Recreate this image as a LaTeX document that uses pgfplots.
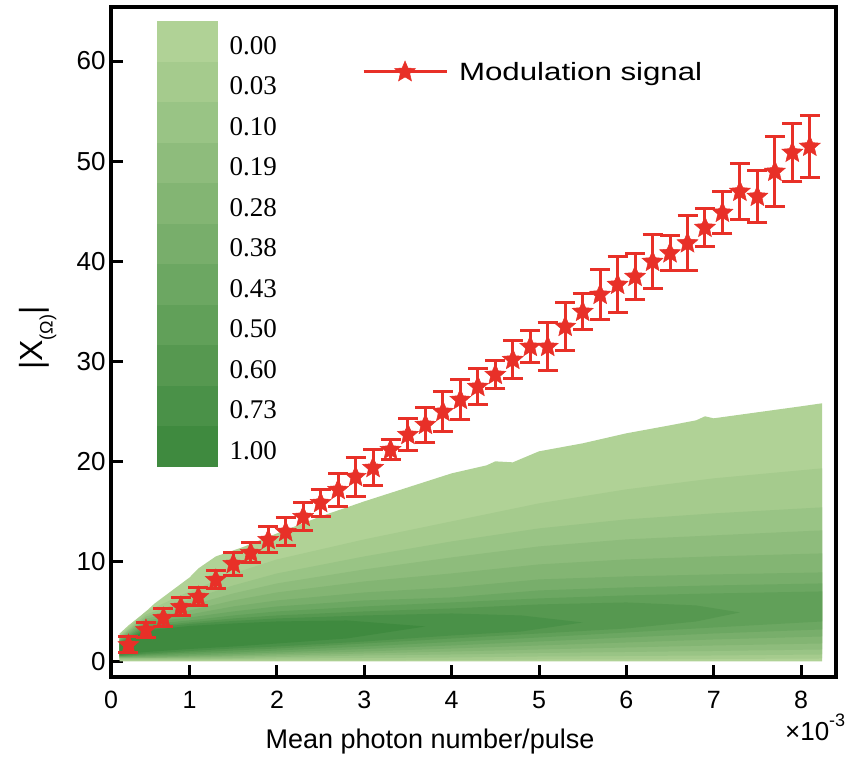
\documentclass[border=0pt]{standalone}
\usepackage{fontspec}
\setmainfont{Liberation Sans}
\newfontfamily\seriffont{Liberation Serif}
\newfontfamily\legfont[FakeStretch=1.25]{Liberation Sans}
\usepackage{pgfplots}
\pgfplotsset{compat=1.18}
\definecolor{mRed}{RGB}{232,48,40}
\definecolor{gL}{RGB}{176,210,150}
\definecolor{gD}{RGB}{63,138,63}
\colorlet{c0}{gL}
\colorlet{c1}{gD!10!gL}
\colorlet{c2}{gD!20!gL}
\colorlet{c3}{gD!30!gL}
\colorlet{c4}{gD!40!gL}
\colorlet{c5}{gD!50!gL}
\colorlet{c6}{gD!60!gL}
\colorlet{c7}{gD!70!gL}
\colorlet{c8}{gD!80!gL}
\colorlet{c9}{gD!90!gL}
\colorlet{c10}{gD}
\pgfdeclareplotmark{fstar}{%
 \pgfpathmoveto{\pgfpointpolar{90}{\pgfplotmarksize}}%
 \pgfpathlineto{\pgfpointpolar{126}{0.45\pgfplotmarksize}}%
 \pgfpathlineto{\pgfpointpolar{162}{\pgfplotmarksize}}%
 \pgfpathlineto{\pgfpointpolar{198}{0.45\pgfplotmarksize}}%
 \pgfpathlineto{\pgfpointpolar{234}{\pgfplotmarksize}}%
 \pgfpathlineto{\pgfpointpolar{270}{0.45\pgfplotmarksize}}%
 \pgfpathlineto{\pgfpointpolar{306}{\pgfplotmarksize}}%
 \pgfpathlineto{\pgfpointpolar{342}{0.45\pgfplotmarksize}}%
 \pgfpathlineto{\pgfpointpolar{18}{\pgfplotmarksize}}%
 \pgfpathlineto{\pgfpointpolar{54}{0.45\pgfplotmarksize}}%
 \pgfpathclose
 \pgfusepathqfillstroke}

\pgfplotstableread{
x y e
0.3 1.65 0.8
0.5 3.15 0.75
0.7 4.35 0.9
0.9 5.45 0.9
1.1 6.45 0.9
1.3 8.15 0.9
1.5 9.75 1.15
1.7 10.85 1.0
1.9 12.15 1.3
2.1 12.95 1.4
2.3 14.45 1.4
2.5 15.85 1.35
2.7 17.15 1.65
2.9 18.45 1.95
3.1 19.35 1.8
3.3 21.15 1.0
3.5 22.65 1.6
3.7 23.65 1.75
3.9 24.95 2.0
4.1 26.15 2.0
4.3 27.45 1.8
4.5 28.65 1.4
4.7 30.15 1.9
4.9 31.45 1.6
5.1 31.45 2.4
5.3 33.45 2.4
5.5 34.95 1.8
5.7 36.65 2.5
5.9 37.65 2.8
6.1 38.45 2.3
6.3 39.95 2.7
6.5 40.8 1.75
6.7 41.8 2.75
6.9 43.35 1.9
7.1 44.85 2.1
7.3 46.95 2.8
7.5 46.45 2.6
7.7 48.95 3.5
7.9 50.85 2.9
8.1 51.45 3.1
}\modtable

\begin{document}
\begin{tikzpicture}
\path[use as bounding box] (-111bp,-86bp) rectangle (741bp,677bp);
\begin{axis}[
  at={(0,0)}, anchor=south west, scale only axis,
  width=725bp, height=670bp,
  clip mode=individual,
  xmin=0.1, xmax=8.4, ymin=-1.55, ymax=65.4,
  axis line style={line width=3.5bp, black},
  xtick={0.1,1,2,3,4,5,6,7,8},
  xticklabels={0,1,2,3,4,5,6,7,8},
  ytick={0,10,20,30,40,50,60},
  xtick pos=bottom, ytick pos=left,
  tick align=inside,
  major tick length=12bp,
  tick style={line width=3bp, black},
  /pgf/number format/assume math mode=true,
  x tick label style={font=\fontsize{25bp}{28bp}\selectfont, yshift=-11bp},
  y tick label style={font=\fontsize{26bp}{30bp}\selectfont, xshift=-2bp},
  legend style={at={(axis description cs:0.346,0.903)}, anchor=west,
    draw=none, fill=none, inner sep=0pt,
    /tikz/every odd column/.append style={column sep=9bp},
    font=\legfont\fontsize{25bp}{30bp}\selectfont},
  legend image code/.code={%
    \draw[mRed, line width=3bp] (0bp,0bp) -- (83bp,0bp);
    \draw[mRed, fill=mRed] plot[mark=fstar, mark size=11bp] coordinates {(41.5bp,0bp)};
  },
]
% density contours (nested filled regions, lightest to darkest)
\addplot[forget plot, fill=c0, draw=none] coordinates {
 (0.2,2.8) (0.3,3.6) (0.4,4.3) (0.5,5.0) (0.6,5.8) (0.8,7.1) (1.0,8.4) (1.1,9.3)
 (1.3,10.5) (1.6,11.4) (2.0,12.8) (2.5,14.5) (3.0,16.0) (3.5,17.4) (4.0,18.8)
 (4.4,19.6) (4.5,20.0) (4.7,19.9) (5.0,21.0) (5.5,21.8) (6.0,22.8) (6.5,23.6) (6.8,24.1) (6.9,24.5) (7.0,24.3) (7.5,24.9)
 (8.0,25.5) (8.24,25.8) (8.24,0) (0.2,0)};
\addplot[forget plot, fill=c1, draw=none] coordinates {
 (0.2,2.6) (0.5,5.0) (1.0,7.0) (1.5,8.8) (2.0,10.2) (3.0,12.2) (4.0,14.0) (5.0,15.8) (6.0,17.2) (7.0,18.3) (8.24,19.3)
 (8.24,0.3) (7.0,0.25) (6.0,0.2) (5.0,0.2) (4.0,0.15) (3.0,0.1) (2.0,0.1) (1.5,0.1) (1.0,0.1) (0.5,0.1) (0.2,0.1)};
\addplot[forget plot, fill=c2, draw=none] coordinates {
 (0.2,2.5) (0.5,4.7) (1.0,6.2) (1.5,7.6) (2.0,8.8) (3.0,10.5) (4.0,12.0) (5.0,13.3) (6.0,14.2) (7.0,14.8) (8.24,15.4)
 (8.24,0.7) (7.0,0.6) (6.0,0.55) (5.0,0.5) (4.0,0.4) (3.0,0.35) (2.0,0.3) (1.5,0.25) (1.0,0.2) (0.5,0.2) (0.2,0.2)};
\addplot[forget plot, fill=c3, draw=none] coordinates {
 (0.2,2.4) (0.5,4.5) (1.0,5.6) (1.5,6.8) (2.0,7.8) (3.0,9.2) (4.0,10.4) (5.0,11.5) (6.0,12.2) (7.0,12.6) (8.24,13.1)
 (8.24,1.2) (7.0,1.05) (6.0,0.95) (5.0,0.85) (4.0,0.7) (3.0,0.6) (2.0,0.45) (1.5,0.35) (1.0,0.3) (0.5,0.3) (0.2,0.3)};
\addplot[forget plot, fill=c4, draw=none] coordinates {
 (0.2,2.3) (0.5,4.3) (1.0,5.1) (1.5,6.1) (2.0,6.9) (3.0,8.0) (4.0,8.8) (5.0,9.7) (6.0,10.2) (7.0,10.5) (8.24,10.8)
 (8.24,1.8) (7.0,1.6) (6.0,1.4) (5.0,1.2) (4.0,1.0) (3.0,0.8) (2.0,0.6) (1.5,0.5) (1.0,0.4) (0.5,0.35) (0.2,0.35)};
\addplot[forget plot, fill=c5, draw=none] coordinates {
 (0.2,2.2) (0.5,4.1) (1.0,4.7) (1.5,5.5) (2.0,6.1) (3.0,6.9) (4.0,7.4) (5.0,8.2) (6.0,8.5) (7.0,8.7) (8.24,8.9)
 (8.24,2.5) (7.0,2.2) (6.0,1.9) (5.0,1.6) (4.0,1.3) (3.0,1.0) (2.0,0.75) (1.5,0.6) (1.0,0.5) (0.5,0.4) (0.2,0.4)};
\addplot[forget plot, fill=c6, draw=none] coordinates {
 (0.2,2.1) (0.5,3.9) (1.0,4.4) (1.5,5.0) (2.0,5.5) (3.0,6.1) (4.0,6.4) (5.0,7.1) (6.0,7.4) (7.0,7.6) (8.24,7.8)
 (8.24,3.2) (7.0,2.8) (6.0,2.4) (5.0,2.0) (4.0,1.6) (3.0,1.25) (2.0,0.9) (1.5,0.75) (1.0,0.6) (0.5,0.5) (0.2,0.45)};
\addplot[forget plot, fill=c7, draw=none] coordinates {
 (0.2,2.0) (0.5,3.7) (1.0,4.1) (1.5,4.6) (2.0,5.0) (3.0,5.5) (4.0,5.9) (5.0,6.3) (6.0,6.6) (7.0,6.8) (8.24,7.0)
 (8.24,4.0) (7.0,3.4) (6.0,2.9) (5.0,2.4) (4.0,1.95) (3.0,1.5) (2.0,1.1) (1.5,0.9) (1.0,0.75) (0.5,0.6) (0.2,0.5)};
\addplot[forget plot, fill=c8, draw=none] coordinates {
 (0.2,1.9) (0.5,3.5) (1.0,3.9) (1.5,4.3) (2.0,4.6) (3.0,5.0) (4.0,5.3) (5.0,5.7) (6.0,5.9) (6.8,5.6) (7.3,4.9)
 (6.8,4.0) (6.0,3.3) (5.0,2.8) (4.0,2.3) (3.0,1.8) (2.0,1.3) (1.5,1.1) (1.0,0.9) (0.5,0.7) (0.2,0.55)};
\addplot[forget plot, fill=c9, draw=none] coordinates {
 (0.2,1.8) (0.5,3.3) (1.0,3.75) (1.5,4.05) (2.0,4.3) (3.0,4.6) (4.0,4.8) (4.8,4.6) (5.5,3.9)
 (4.8,3.0) (4.0,2.6) (3.0,2.0) (2.0,1.5) (1.5,1.3) (1.0,1.05) (0.5,0.8) (0.2,0.6)};
\addplot[forget plot, fill=c10, draw=none] coordinates {
 (0.2,1.75) (0.5,3.1) (1.0,3.55) (1.5,3.8) (2.0,4.0) (2.8,4.1) (3.7,3.5)
 (2.8,2.3) (2.0,1.8) (1.5,1.5) (1.0,1.25) (0.5,0.95) (0.2,0.7)};
% modulation signal
\addplot[only marks, mark=fstar, mark size=11bp, mRed,
  mark options={fill=mRed, draw=mRed, line width=0.5bp},
  error bars/.cd, y dir=both, y explicit,
  error bar style={line width=3bp, mRed},
  error mark options={rotate=90, mark size=10bp, line width=3bp, mRed}]
  table[x=x, y=y, y error=e] {\modtable};
\addlegendentry{Modulation signal}
\node[anchor=base, rotate=90, font=\fontsize{32bp}{36bp}\selectfont] at (axis description cs:-0.0938,0.506)
  {|X\raisebox{-0.3em}{\fontsize{18bp}{20bp}\selectfont(Ω)}|};
\node[anchor=base, font=\fontsize{27bp}{30bp}\selectfont] at (axis description cs:0.44,-0.106) {Mean photon number/pulse};
\node[anchor=base west, font=\fontsize{26bp}{28bp}\selectfont] at (axis description cs:0.925,-0.0955) {×10\raisebox{0.55em}{\fontsize{18bp}{20bp}\selectfont -3}};
\end{axis}
% colour scale
\begin{axis}[
  at={(46bp,210bp)}, anchor=south west, scale only axis,
  width=61bp, height=446bp,
  xmin=0, xmax=1, ymin=0, ymax=11,
  axis line style={draw=none},
  xtick=\empty,
  ytick={0.5,1.5,2.5,3.5,4.5,5.5,6.5,7.5,8.5,9.5,10.5},
  yticklabels={1.00,0.73,0.60,0.50,0.43,0.38,0.28,0.19,0.10,0.03,0.00},
  yticklabel pos=right,
  major tick length=0pt,
  y tick label style={font=\seriffont\fontsize{27bp}{30bp}\selectfont, anchor=west, xshift=8bp, yshift=-4bp},
]
\addplot[fill=c10, draw=none] coordinates {(0,0) (1,0) (1,1) (0,1)};
\addplot[fill=c9, draw=none] coordinates {(0,1) (1,1) (1,2) (0,2)};
\addplot[fill=c8, draw=none] coordinates {(0,2) (1,2) (1,3) (0,3)};
\addplot[fill=c7, draw=none] coordinates {(0,3) (1,3) (1,4) (0,4)};
\addplot[fill=c6, draw=none] coordinates {(0,4) (1,4) (1,5) (0,5)};
\addplot[fill=c5, draw=none] coordinates {(0,5) (1,5) (1,6) (0,6)};
\addplot[fill=c4, draw=none] coordinates {(0,6) (1,6) (1,7) (0,7)};
\addplot[fill=c3, draw=none] coordinates {(0,7) (1,7) (1,8) (0,8)};
\addplot[fill=c2, draw=none] coordinates {(0,8) (1,8) (1,9) (0,9)};
\addplot[fill=c1, draw=none] coordinates {(0,9) (1,9) (1,10) (0,10)};
\addplot[fill=c0, draw=none] coordinates {(0,10) (1,10) (1,11) (0,11)};
\end{axis}
\end{tikzpicture}
\end{document}
